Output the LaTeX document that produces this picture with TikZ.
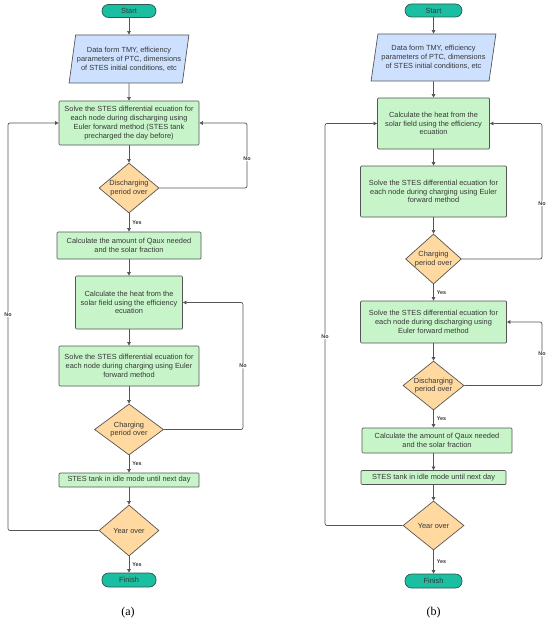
\documentclass[tikz,border=0pt]{standalone}
\usepackage{fontspec}
\setmainfont{Liberation Sans}
\newfontfamily\capfont{Liberation Serif}
\usetikzlibrary{shapes.geometric,arrows.meta}
\definecolor{tealf}{RGB}{26,190,160}
\definecolor{tealb}{RGB}{45,90,80}
\definecolor{bluef}{RGB}{205,225,255}
\definecolor{greenf}{RGB}{199,245,201}
\definecolor{orangef}{RGB}{255,217,160}
\definecolor{edge}{RGB}{85,85,85}
\definecolor{txt}{RGB}{55,55,55}
\tikzset{
  every node/.style={text=txt, font=\fontsize{7.4}{8.8}\selectfont},
  termbox/.style={draw=tealb, fill=tealf, line width=0.7pt, rounded corners=6.5pt, minimum height=13pt, inner sep=0pt},
  databox/.style={trapezium, trapezium left angle=75, trapezium right angle=105, trapezium stretches=true, draw=edge, fill=bluef, line width=0.7pt, align=center, inner sep=0pt},
  procbox/.style={draw=edge, fill=greenf, line width=0.7pt, rounded corners=1pt, align=center, inner sep=0pt},
  decbox/.style={diamond, aspect=1.2, draw=edge, fill=orangef, line width=0.7pt, align=center, inner sep=0pt},
  arrline/.style={draw=edge, line width=0.7pt, -{Triangle[width=3.6pt,length=3.6pt]}},
  loopline/.style={arrline, rounded corners=2pt},
  nolbl/.style={fill=white, inner sep=0.6pt, font=\fontsize{5.4}{6}\selectfont\bfseries},
  yeslbl/.style={right, inner sep=0pt, xshift=3pt, font=\fontsize{5.4}{6}\selectfont\bfseries},
  captext/.style={font=\capfont\fontsize{12}{13}\selectfont, text=black}
}
\begin{document}
\begin{tikzpicture}[x=1pt,y=-1pt]
\useasboundingbox (0,0) rectangle (550,623);
% ---------------- (a) ----------------
\node[termbox, minimum width=54pt] (sa) at (129,11) {Start};
\node[databox, minimum width=120pt, minimum height=48pt] (da) at (129,59) {Data form TMY, efficiency\\parameters of PTC, dimensions\\of STES initial conditions, etc};
\node[procbox, minimum width=140pt, minimum height=44pt] (b1a) at (129,123) {Solve the STES differential ecuation for\\each node during discharging using\\Euler forward method (STES tank\\precharged the day before)};
\node[decbox, minimum width=60pt, minimum height=50pt] (d1a) at (129,188) {Discharging\\period over};
\node[procbox, minimum width=144pt, minimum height=27pt] (qa) at (129,245.5) {Calculate the amount of Qaux needed\\and the solar fraction};
\node[procbox, minimum width=107pt, minimum height=53pt] (ha) at (129,302.5) {Calculate the heat from the\\solar field using the efficiency\\ecuation};
\node[procbox, minimum width=140pt, minimum height=40pt] (ca) at (129,366) {Solve the STES differential ecuation for\\each node during charging using Euler\\forward method};
\node[decbox, minimum width=69pt, minimum height=51pt] (d2a) at (129,429.5) {Charging\\period over};
\node[procbox, minimum width=140pt, minimum height=14pt] (ia) at (129,480) {STES tank in idle mode until next day};
\node[decbox, minimum width=60pt, minimum height=51pt] (ya) at (129,530.5) {Year over};
\node[termbox, minimum width=54pt, minimum height=14pt] (fa) at (129,580) {Finish};
\node[captext] (capa) at (128,613) {(a)};
\coordinate (ra1) at (247,0);
\coordinate (ra2) at (243,0);
\coordinate (la) at (8,0);

\draw[arrline] (sa) -- (da);
\draw[arrline] (da) -- (b1a);
\draw[arrline] (b1a) -- (d1a);
\draw[arrline] (d1a) -- node[yeslbl]{Yes} (qa);
\draw[arrline] (qa) -- (ha);
\draw[arrline] (ha) -- (ca);
\draw[arrline] (ca) -- (d2a);
\draw[arrline] (d2a) -- node[yeslbl]{Yes} (ia);
\draw[arrline] (ia) -- (ya);
\draw[arrline] (ya) -- node[yeslbl]{Yes} (fa);
\draw[loopline] (d1a.east) -- (d1a.east -| ra1) -- node[nolbl, pos=0.45]{No} (b1a.east -| ra1) -- (b1a.east);
\draw[loopline] (d2a.east) -- (d2a.east -| ra2) -- node[nolbl]{No} (ha.east -| ra2) -- (ha.east);
\draw[loopline] (ya.west) -- (ya.west -| la) -- node[nolbl, pos=0.53]{No} (b1a.west -| la) -- (b1a.west);

% ---------------- (b) ----------------
\node[termbox, minimum width=57pt] (sb) at (433.5,10.5) {Start};
\node[databox, minimum width=125pt, minimum height=47pt] (db) at (433.5,57.5) {Data form TMY, efficiency\\parameters of PTC, dimensions\\of STES initial conditions, etc};
\node[procbox, minimum width=112pt, minimum height=51pt] (hb) at (433.5,123.5) {Calculate the heat from the\\solar field using the efficiency\\ecuation};
\node[procbox, minimum width=146pt, minimum height=51pt] (cb) at (433.5,191.5) {Solve the STES differential ecuation for\\each node during charging using Euler\\forward method};
\node[decbox, minimum width=55pt, minimum height=50pt] (d2b) at (433.5,259) {Charging\\period over};
\node[procbox, minimum width=146pt, minimum height=42pt] (b1b) at (433.5,322) {Solve the STES differential ecuation for\\each node during discharging using\\Euler forward method};
\node[decbox, minimum width=61pt, minimum height=49pt] (d1b) at (433.5,385.5) {Discharging\\period over};
\node[procbox, minimum width=150pt, minimum height=25pt] (qb) at (437,440.5) {Calculate the amount of Qaux needed\\and the solar fraction};
\node[procbox, minimum width=145pt, minimum height=14pt] (ib) at (433.5,477.5) {STES tank in idle mode until next day};
\node[decbox, minimum width=61pt, minimum height=49pt] (yb) at (433.5,525.5) {Year over};
\node[termbox, minimum width=57pt, minimum height=14pt] (fb) at (433.5,581) {Finish};
\node[captext] (capb) at (433.5,613) {(b)};
\coordinate (rb) at (542,0);
\coordinate (lb) at (325,0);

\draw[arrline] (sb) -- (db);
\draw[arrline] (db) -- (hb);
\draw[arrline] (hb) -- (cb);
\draw[arrline] (cb) -- (d2b);
\draw[arrline] (d2b) -- node[yeslbl]{Yes} (b1b);
\draw[arrline] (b1b) -- (d1b);
\draw[arrline] (d1b.south) -- node[yeslbl]{Yes} (d1b.south |- qb.north);
\draw[arrline] (qb.south -| ib.north) -- (ib.north);
\draw[arrline] (ib) -- (yb);
\draw[arrline] (yb) -- node[yeslbl]{Yes} (fb);
\draw[loopline] (d2b.east) -- (d2b.east -| rb) -- node[nolbl, pos=0.41]{No} (hb.east -| rb) -- (hb.east);
\draw[loopline] (d1b.east) -- (d1b.east -| rb) -- node[nolbl]{No} (b1b.east -| rb) -- (b1b.east);
\draw[loopline] (yb.west) -- (yb.west -| lb) -- node[nolbl, pos=0.47]{No} (hb.west -| lb) -- (hb.west);
\end{tikzpicture}
\end{document}
